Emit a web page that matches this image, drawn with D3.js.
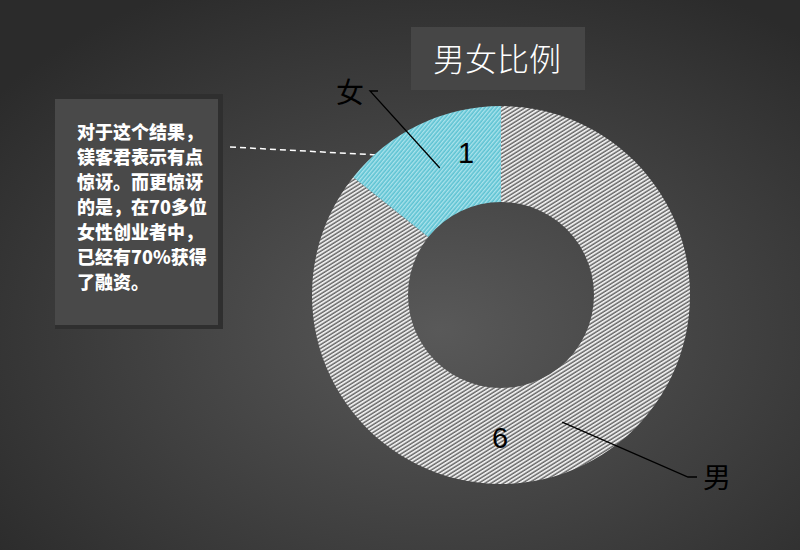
<!DOCTYPE html>
<html lang="zh">
<head>
    <meta charset="UTF-8">
    <title>男女比例</title>
    <style>
        html, body { margin: 0; padding: 0; background: #3a3a3a; }
        svg { display: block; }
    </style>
</head>
<body>

<div id="chart"></div>

<script src="https://cdn.jsdelivr.net/npm/d3@7/dist/d3.min.js"></script>
<script>
    // 数据
    const categories = ["男", "女"];
    const values = [6, 1];
    const title = "男女比例";
    const noteLines = [
        "对于这个结果，",
        "镁客君表示有点",
        "惊讶。而更惊讶",
        "的是，在70多位",
        "女性创业者中，",
        "已经有70%获得",
        "了融资。"
    ];

    const width = 800,
          height = 550;
    const cx = 501, cy = 295,
          outerR = 189, innerR = 93;

    const svg = d3.select("#chart")
        .append("svg")
        .attr("width", width)
        .attr("height", height);

    const defs = svg.append("defs");

    // 背景径向渐变
    const bg = defs.append("radialGradient")
        .attr("id", "bg")
        .attr("cx", "55%").attr("cy", "60%").attr("r", "70%");
    bg.append("stop").attr("offset", "0%").attr("stop-color", "#595959");
    bg.append("stop").attr("offset", "100%").attr("stop-color", "#2b2b2b");

    // 条纹填充
    function stripes(id, base, line, angle, size, lw) {
        const p = defs.append("pattern")
            .attr("id", id)
            .attr("patternUnits", "userSpaceOnUse")
            .attr("width", size).attr("height", size)
            .attr("patternTransform", `rotate(${angle})`);
        p.append("rect").attr("width", size).attr("height", size).attr("fill", base);
        p.append("rect").attr("width", size).attr("height", lw).attr("fill", line);
    }
    stripes("hatchMale", "#666666", "#ebebeb", -32, 3.3, 1.9);
    stripes("hatchFemale", "#5cc2d2", "#ace3ec", -50, 3, 1.4);

    svg.append("rect")
        .attr("width", width).attr("height", height)
        .attr("fill", "url(#bg)");

    // 标题
    svg.append("rect")
        .attr("x", 411).attr("y", 27)
        .attr("width", 174).attr("height", 63)
        .attr("fill", "#464646");
    svg.append("text")
        .attr("x", 497).attr("y", 71)
        .attr("text-anchor", "middle")
        .style("font-family", "'Noto Sans CJK SC', sans-serif")
        .style("font-size", "32px")
        .style("font-weight", 300)
        .attr("fill", "#ffffff")
        .text(title);

    // 说明框
    const note = svg.append("g");
    note.append("rect")
        .attr("x", 55).attr("y", 94)
        .attr("width", 168).attr("height", 235)
        .attr("fill", "#2f2f2f");
    note.append("rect")
        .attr("x", 55).attr("y", 99)
        .attr("width", 163).attr("height", 226)
        .attr("fill", "#494949");
    note.append("text")
        .style("font-family", "'Noto Sans CJK SC', sans-serif")
        .style("font-size", "18px")
        .style("font-weight", 900)
        .attr("fill", "#ffffff")
        .selectAll("tspan")
        .data(noteLines)
        .join("tspan")
            .attr("x", 77)
            .attr("y", (d, i) => 139 + i * 25)
            .text(d => d);

    // 虚线
    svg.append("line")
        .attr("x1", 230).attr("y1", 147)
        .attr("x2", 433).attr("y2", 158)
        .attr("stroke", "#ffffff")
        .attr("stroke-width", 1.5)
        .attr("stroke-dasharray", "6,4");

    // 环形图
    const pie = d3.pie().sort(null).value(d => d)(values);
    const arc = d3.arc().innerRadius(innerR).outerRadius(outerR);
    const fills = ["url(#hatchMale)", "url(#hatchFemale)"];

    const g = svg.append("g").attr("transform", `translate(${cx},${cy})`);

    g.selectAll("path.slice")
        .data(pie)
        .join("path")
            .classed("slice", true)
            .attr("d", arc)
            .attr("fill", (d, i) => fills[i]);

    // 数值标签
    const valueOffset = [[-1, 153], [-35, -132]];
    g.selectAll("text.value")
        .data(pie)
        .join("text")
            .classed("value", true)
            .attr("x", (d, i) => valueOffset[i][0])
            .attr("y", (d, i) => valueOffset[i][1])
            .attr("text-anchor", "middle")
            .style("font-family", "'Liberation Sans', Arial, sans-serif")
            .style("font-size", "29px")
            .attr("fill", "#000000")
            .text(d => d.data);

    // 类别标签与引线
    const labelPos = [[216, 193], [-151, -192]];
    const elbow = [[187, 182], [-131, -204], [196, 182], [-123, -204]];
    g.selectAll("path.leader")
        .data(pie)
        .join("path")
            .classed("leader", true)
            .attr("fill", "none")
            .attr("stroke", "#000000")
            .attr("stroke-width", 1.3)
            .attr("d", (d, i) => {
                const c = arc.centroid(d);
                return d3.line()([c, elbow[i], elbow[i + 2]]);
            });

    g.selectAll("text.cat")
        .data(pie)
        .join("text")
            .classed("cat", true)
            .attr("x", (d, i) => labelPos[i][0])
            .attr("y", (d, i) => labelPos[i][1])
            .attr("text-anchor", "middle")
            .style("font-family", "'Noto Sans CJK SC', sans-serif")
            .style("font-size", "28px")
            .attr("fill", "#000000")
            .text((d, i) => categories[i]);
</script>
</body>
</html>
